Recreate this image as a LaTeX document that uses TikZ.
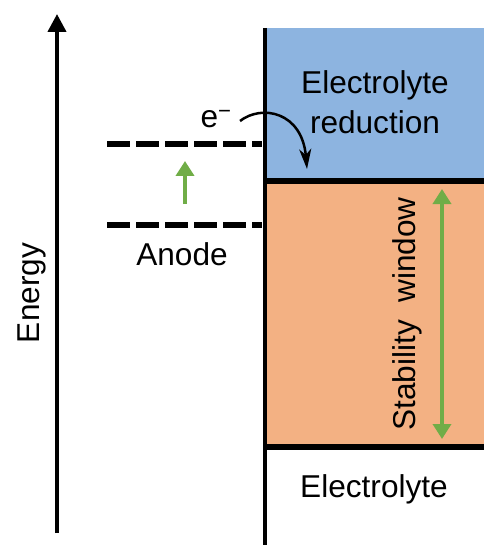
\documentclass[tikz,border=0pt]{standalone}
\usepackage{fontspec}
\setmainfont{Liberation Sans}
\usetikzlibrary{arrows.meta}
\definecolor{redblue}{RGB}{141,180,224}
\definecolor{stabor}{RGB}{243,177,131}
\definecolor{arrgreen}{RGB}{112,173,71}
\begin{document}
\begin{tikzpicture}[x=1pt,y=-1pt,
  lbl/.style={font=\fontsize{31.6}{40}\selectfont, inner sep=0pt, align=center},
  level/.style={line width=6pt, dash pattern=on 23pt off 6pt},
  greenarrow/.style={arrgreen, line width=4pt},
  gtip/.tip={Triangle[length=15pt,width=18pt]}]
\useasboundingbox (0,0) rectangle (484,545);
% regions
\fill[redblue] (265,28) rectangle (484,181);
\fill[stabor] (265,181) rectangle (484,447);
\draw[line width=5.5pt] (265,181) -- (484,181);
\draw[line width=5.5pt] (265,447) -- (484,447);
\draw[line width=4pt] (265,28) -- (265,545);
% energy axis
\coordinate (ab) at (57,533);
\coordinate (at) at (57,14);
\draw[line width=4pt, -{Triangle[length=18pt,width=18pt]}] (ab) -- (at);
\node[lbl, rotate=90, anchor=base] (energy) at (39,293) {Energy};
% anode levels
\coordinate (u1) at (107,144); \coordinate (u2) at (262,144);
\coordinate (l1) at (107,225); \coordinate (l2) at (262,225);
\draw[level] (u1) -- (u2);
\draw[level] (l1) -- (l2);
\coordinate (ga) at (185,204); \coordinate (gb) at (185,161);
\draw[greenarrow, -gtip] (ga) -- (gb);
\node[lbl, anchor=base] (anode) at (182,265) {Anode};
% electron transfer
\node[lbl, anchor=base] (e) at (216,128) {e\textsuperscript{−}};
\coordinate (cs) at (240,121);
\coordinate (ce) at (307,169);
\draw[line width=2.5pt, -{Stealth[length=20pt,width=12pt,inset=6pt]}] (cs) .. controls (262,104) and (302,112) .. (ce);
% labels
\node[lbl, anchor=base] (red1) at (375,94) {Electrolyte};
\node[lbl, anchor=base] (red2) at (375,134) {reduction};
\node[lbl, anchor=base] (elec) at (374,497) {Electrolyte};
\node[lbl, rotate=90, anchor=base] (stab) at (415,314) {Stability\ \ window};
\coordinate (sa) at (442,189); \coordinate (sb) at (442,439);
\draw[greenarrow, line width=3.5pt, gtip-gtip] (sa) -- (sb);
\end{tikzpicture}
\end{document}
